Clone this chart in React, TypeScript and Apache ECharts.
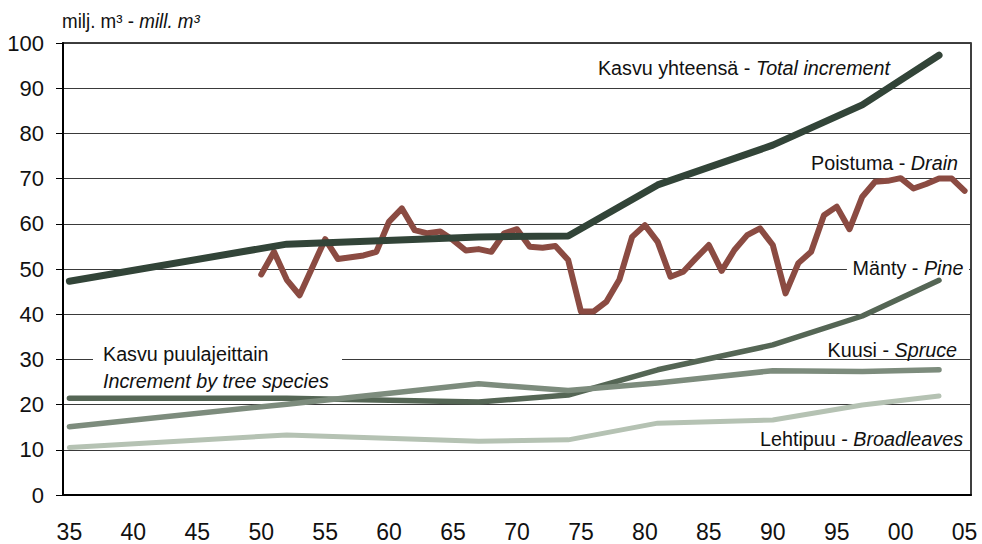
import React, { useEffect, useRef } from "react";
import * as echarts from "echarts";

const years: string[] = [];
for (let y = 1935; y <= 2005; y++) years.push(String(y));

const yTicks = [0, 10, 20, 30, 40, 50, 60, 70, 80, 90, 100];

const invYears = [1935, 1952, 1967, 1974, 1981, 1990, 1997, 2003];
const totalIncrement = [47.3, 55.5, 57.1, 57.3, 68.6, 77.4, 86.3, 97.3];
const pineIncrement = [21.4, 21.4, 20.6, 22.1, 27.7, 33.2, 39.6, 47.5];
const spruceIncrement = [15.1, 20.1, 24.6, 23.1, 24.8, 27.5, 27.3, 27.7];
const broadleafIncrement = [10.5, 13.3, 11.9, 12.2, 15.9, 16.6, 19.9, 21.9];

const drainYears: number[] = [];
for (let y = 1950; y <= 2005; y++) drainYears.push(y);
const drainValues = [
  48.8, 53.8, 47.6, 44.2, 50.4, 56.6, 52.2, 52.6, 53.0, 53.8,
  60.5, 63.4, 58.6, 57.9, 58.3, 56.4, 54.1, 54.4, 53.8, 57.9,
  58.8, 54.9, 54.7, 55.1, 52.0, 40.6, 40.6, 42.8, 47.6, 57.1,
  59.7, 56.0, 48.3, 49.4, 52.4, 55.3, 49.6, 54.2, 57.5, 59.0,
  55.3, 44.6, 51.3, 53.8, 61.9, 63.8, 58.8, 66.0, 69.3, 69.5,
  70.1, 67.8, 68.8, 70.0, 70.0, 67.3,
];

const FONT = "'Liberation Sans Narrow', 'Arial Narrow', 'Liberation Sans', Arial, sans-serif";

const pairs = (xs: number[], vs: number[]) => xs.map((x, i) => [String(x), vs[i]]);

export default function App() {
  const ref = useRef<HTMLDivElement>(null);
  useEffect(() => {
    if (!ref.current) return;
    const chart = echarts.init(ref.current, null, { renderer: "svg" });
    const lineSeries = (name: string, data: any[], color: string, width: number, z: number) => ({
      type: "line",
      name,
      data,
      showSymbol: false,
      symbol: "none",
      z,
      lineStyle: { color, width, cap: "round", join: "round" },
    });
    const SX = 0.94;
    const txt = (
      x: number,
      y: number,
      a: string,
      b: string,
      align: string,
      size: number,
      bg?: boolean
    ) => ({
      type: "text",
      x,
      y,
      z: 1,
      scaleX: SX,
      style: {
        text: `{a|${a}}{b|${b}}`,
        align,
        verticalAlign: "middle",
        fill: "#111",
        font: `${size}px ${FONT}`,
        backgroundColor: bg ? "#fff" : undefined,
        padding: bg ? [4, 6, 4, 6] : 0,
        rich: {
          a: { fontSize: size, fontFamily: FONT, fill: "#111" },
          b: { fontSize: size, fontFamily: FONT, fontStyle: "italic", fill: "#111" },
        },
      },
    });
    chart.setOption({
      animation: false,
      grid: {
        left: 63,
        right: 11,
        top: 43,
        bottom: 49,
        show: true,
        borderColor: "#000",
        borderWidth: 1.5,
        backgroundColor: "transparent",
      },
      xAxis: {
        type: "category",
        data: years,
        boundaryGap: true,
        axisLine: { lineStyle: { color: "#000", width: 2 } },
        axisTick: { alignWithLabel: true, interval: 0, length: 6, lineStyle: { color: "#000", width: 1 } },
        axisLabel: {
          interval: 4,
          formatter: (v: string) => v.slice(2),
          fontSize: 23,
          fontFamily: FONT,
          color: "#111",
          margin: 25,
        },
        splitLine: { show: false },
      },
      yAxis: {
        type: "value",
        min: yTicks[0],
        max: yTicks[yTicks.length - 1],
        interval: 10,
        axisLine: { show: true, lineStyle: { color: "#000", width: 2 } },
        axisTick: { show: true, length: 7, lineStyle: { color: "#000" } },
        axisLabel: { fontSize: 22, fontFamily: FONT, color: "#111", margin: 19 },
        splitLine: { show: true, lineStyle: { color: "#3a3a3a", width: 1 } },
      },
      graphic: [
        txt(62, 21, "milj. m³ - ", "mill. m³", "left", 20),
        txt(890, 68, "Kasvu yhteensä - ", "Total increment", "right", 21),
        txt(958, 163, "Poistuma - ", "Drain", "right", 21),
        txt(969, 268, "Mänty - ", "Pine", "right", 21, true),
        txt(957, 350, "Kuusi - ", "Spruce", "right", 21),
        txt(963, 439, "Lehtipuu - ", "Broadleaves", "right", 21),
        {
          type: "rect",
          z: 1,
          shape: { x: 93, y: 343, width: 249, height: 48 },
          style: { fill: "#fff" },
        },
        {
          type: "text",
          x: 103,
          y: 354,
          z: 1,
          scaleX: SX,
          style: { text: "Kasvu puulajeittain", verticalAlign: "middle", fill: "#111", font: `21px ${FONT}` },
        },
        {
          type: "text",
          x: 103,
          y: 381,
          z: 1,
          scaleX: SX,
          style: { text: "Increment by tree species", verticalAlign: "middle", fill: "#111", font: `italic 21px ${FONT}` },
        },
      ],
      series: [
        lineSeries("Lehtipuu - Broadleaves", pairs(invYears, broadleafIncrement), "#b5c2b3", 5, 3),
        lineSeries("Mänty - Pine", pairs(invYears, pineIncrement), "#556655", 5.5, 4),
        lineSeries("Kuusi - Spruce", pairs(invYears, spruceIncrement), "#7d8c7d", 5.5, 5),
        lineSeries("Poistuma - Drain", pairs(drainYears, drainValues), "#8b4b42", 6, 6),
        lineSeries("Kasvu yhteensä - Total increment", pairs(invYears, totalIncrement), "#324438", 7, 7),
      ],
    });
    return () => chart.dispose();
  }, []);
  return (
    <div
      ref={ref}
      style={{ position: "fixed", left: 0, top: 0, width: 982, height: 544, background: "#fff" }}
    />
  );
}
